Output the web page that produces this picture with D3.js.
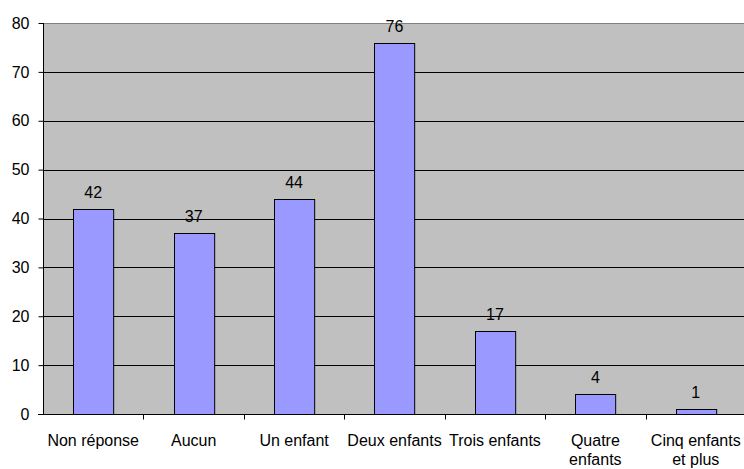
<!DOCTYPE html>
<html>
<head>
<meta charset="utf-8">
<script src="https://cdn.jsdelivr.net/npm/d3@7"></script>
<style>
  body { margin: 0; background: #fff; }
  svg text { font-family: "Liberation Sans", Arial, sans-serif; font-size: 16px; fill: #000; }
</style>
</head>
<body>
<svg width="744" height="469"></svg>
<script>
// chart data
const categories = ["Non réponse", "Aucun", "Un enfant", "Deux enfants", "Trois enfants", "Quatre enfants", "Cinq enfants et plus"];
const labelLines = [["Non réponse"], ["Aucun"], ["Un enfant"], ["Deux enfants"], ["Trois enfants"], ["Quatre", "enfants"], ["Cinq enfants", "et plus"]];
const values = [42, 37, 44, 76, 17, 4, 1];
const yTicks = [0, 10, 20, 30, 40, 50, 60, 70, 80];

let svg = d3.select("svg");
let margin = {left: 43, top: 23, right: -2, bottom: 55};
let width = 744 - margin.left - margin.right,
    height = 469 - margin.top - margin.bottom;

let g = svg.append("g").attr("transform", "translate(" + margin.left + "," + margin.top + ")");

let x = d3.scaleBand().domain(categories).range([0, width]).paddingInner(0.6).paddingOuter(0.3);
let xOuter = d3.scaleBand().domain(categories).range([0, width]);
let y = d3.scaleLinear().domain([0, 80]).range([height, 0]);

// plot background
g.append("rect")
    .attr("x", 0).attr("y", 0)
    .attr("width", width).attr("height", height)
    .attr("fill", "#c0c0c0");

// gridlines
g.append("g")
    .selectAll("line")
    .data(yTicks.filter(d => d > 0))
    .enter().append("line")
    .attr("x1", 0).attr("x2", width)
    .attr("y1", d => Math.round(y(d)) + 0.5)
    .attr("y2", d => Math.round(y(d)) + 0.5)
    .attr("stroke", d => d === 80 ? "#808080" : "#000")
    .attr("stroke-width", 1);

// bars
g.append("g")
    .selectAll("rect")
    .data(values)
    .enter().append("rect")
    .attr("x", (d, i) => Math.round(x(categories[i])) + 0.5)
    .attr("y", d => Math.round(y(d)) + 0.5)
    .attr("width", x.bandwidth())
    .attr("height", d => height - Math.round(y(d)))
    .attr("fill", "#9999ff")
    .attr("stroke", "#000")
    .attr("stroke-width", 1);

// value labels
g.append("g")
    .selectAll("text")
    .data(values)
    .enter().append("text")
    .attr("x", (d, i) => x(categories[i]) + x.bandwidth() / 2)
    .attr("y", d => y(d) - 11)
    .attr("text-anchor", "middle")
    .text(d => d);

// y axis
let yAxis = g.append("g")
    .attr("transform", "translate(0.5,0)")
    .call(d3.axisLeft(y).tickValues(yTicks).tickSize(5).tickPadding(9));
yAxis.select(".domain").attr("stroke", "#000").attr("d", "M0," + y(80) + "V" + (height + 0.5));
yAxis.selectAll(".tick line").attr("stroke", "#000");
yAxis.selectAll("text").style("font-size", "16px").attr("font-family", null);

// x axis
let xAxisG = g.append("g").attr("transform", "translate(0," + (Math.round(height) + 0.5) + ")");
xAxisG.append("line")
    .attr("x1", -5).attr("x2", width)
    .attr("stroke", "#000");
xAxisG.selectAll(".xtick")
    .data(categories.slice(1))
    .enter().append("line")
    .attr("class", "xtick")
    .attr("x1", d => Math.round(xOuter(d)) + 0.5)
    .attr("x2", d => Math.round(xOuter(d)) + 0.5)
    .attr("y1", 0).attr("y2", 5)
    .attr("stroke", "#000");

let xl = xAxisG.selectAll(".xlabel")
    .data(categories)
    .enter().append("text")
    .attr("class", "xlabel")
    .attr("text-anchor", "middle")
    .attr("x", d => xOuter(d) + xOuter.bandwidth() / 2)
    .attr("y", 31);
xl.selectAll("tspan")
    .data((d, i) => labelLines[i])
    .enter().append("tspan")
    .attr("x", function () { return this.parentNode.getAttribute("x"); })
    .attr("dy", (d, i) => i === 0 ? 0 : 19)
    .text(d => d);
</script>
</body>
</html>
